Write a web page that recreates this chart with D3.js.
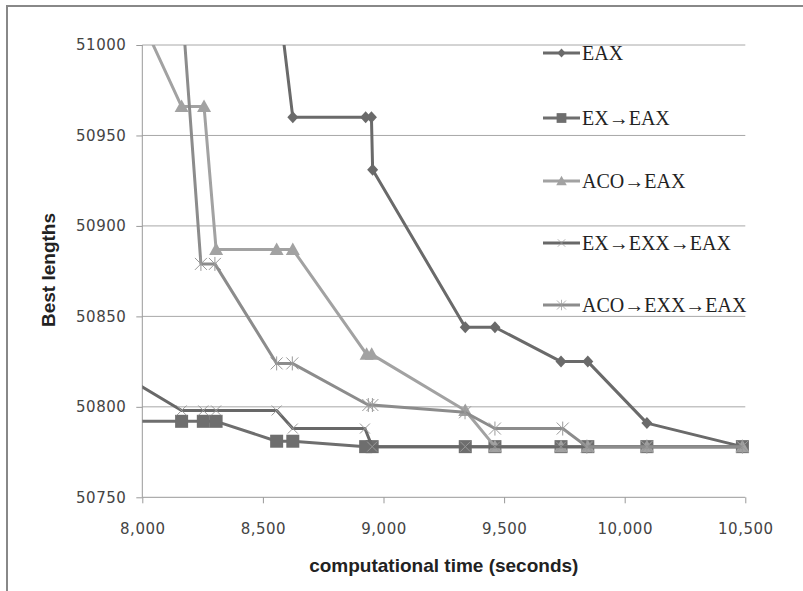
<!DOCTYPE html>
<html>
<head>
<meta charset="utf-8">
<script src="https://cdn.jsdelivr.net/npm/d3@7"></script>
<style>
  body { margin: 0; background: #fff; }
  svg { display: block; }
  .tick text { font-family: "DejaVu Sans", sans-serif; font-size: 15px; fill: #444; letter-spacing: 0.5px; }
  .axis path, .axis line { stroke: #999; }
  .legend text { font-family: "Liberation Serif", serif; font-size: 20px; fill: #222; }
  .title { font-family: "Liberation Sans", Arial, sans-serif; font-weight: bold; font-size: 19px; fill: #222; }
</style>
</head>
<body>
<svg id="chart" width="803" height="591"></svg>
<script>
// axis ticks
var xTicks = [8000, 8500, 9000, 9500, 10000, 10500];
var yTicks = [50750, 50800, 50850, 50900, 50950, 51000];

// series names (legend order)
var names = ["EAX", "EX→EAX", "ACO→EAX", "EX→EXX→EAX", "ACO→EXX→EAX"];

// EAX
var eaxTime = [8557, 8624, 8926, 8950, 8955, 9339, 9462, 9736, 9847, 10092, 10488];
var eaxLen  = [51034, 50960, 50960, 50960, 50931, 50844, 50844, 50825, 50825, 50791, 50778];

// EX -> EAX
var exEaxTime = [7900, 8163, 8253, 8306, 8557, 8624, 8926, 8953, 9339, 9462, 9736, 9847, 10092, 10488];
var exEaxLen  = [50792, 50792, 50792, 50792, 50781, 50781, 50778, 50778, 50778, 50778, 50778, 50778, 50778, 50778];

// ACO -> EAX
var acoEaxTime = [8000, 8163, 8256, 8306, 8557, 8624, 8930, 8951, 9339, 9462, 9736, 9847, 10092, 10488];
var acoEaxLen  = [51013, 50966, 50966, 50887, 50887, 50887, 50829, 50829, 50798, 50778, 50778, 50778, 50778, 50778];

// EX -> EXX -> EAX
var exExxTime = [7900, 8163, 8253, 8306, 8557, 8624, 8923, 8953, 9339, 9462, 9736, 9847, 10092, 10488];
var exExxLen  = [50819, 50798, 50798, 50798, 50798, 50788, 50788, 50778, 50778, 50778, 50778, 50778, 50778, 50778];

// ACO -> EXX -> EAX
var acoExxTime = [8163, 8243, 8301, 8557, 8622, 8937, 8954, 9338, 9462, 9743, 9843, 10092, 10488];
var acoExxLen  = [51025, 50879, 50879, 50824, 50824, 50801, 50801, 50797, 50788, 50788, 50778, 50778, 50778];

var svg = d3.select("#chart");

var x = d3.scaleLinear().domain([8000, 10500]).range([142.3, 745.3]);
var y = d3.scaleLinear().domain([50750, 51000]).range([497.3, 45]);

// outer frame
svg.append("rect")
    .attr("x", 7).attr("y", 6)
    .attr("width", 820).attr("height", 620)
    .attr("fill", "none").attr("stroke", "#888").attr("stroke-width", 2);

// gridlines
svg.append("g").selectAll("line")
    .data(yTicks.slice(1))
    .enter().append("line")
    .attr("x1", x(8000)).attr("x2", x(10500))
    .attr("y1", function(d) { return y(d); })
    .attr("y2", function(d) { return y(d); })
    .attr("stroke", "#a8a8a8").attr("stroke-width", 1);

var yAxis = svg.append("g")
    .attr("class", "axis")
    .attr("transform", "translate(" + x(8000) + ",0)")
    .call(d3.axisLeft(y).tickValues(yTicks).tickSize(6).tickPadding(10).tickFormat(d3.format("d")));
yAxis.select(".domain").attr("d", "M0," + y(51000) + "V" + y(50750));

var xAxis = svg.append("g")
    .attr("class", "axis")
    .attr("transform", "translate(0," + y(50750) + ")")
    .call(d3.axisBottom(x).tickValues(xTicks).tickSize(6).tickPadding(20).tickFormat(d3.format(",")));
xAxis.select(".domain").attr("d", "M" + x(8000) + ",0H" + x(10500));

// axis titles
svg.append("text")
    .attr("class", "title")
    .attr("text-anchor", "middle")
    .attr("transform", "translate(55,270) rotate(-90)")
    .text("Best lengths");

svg.append("text")
    .attr("class", "title")
    .attr("text-anchor", "middle")
    .attr("x", (x(8000) + x(10500)) / 2)
    .attr("y", 572)
    .text("computational time (seconds)");

// marker shapes
function diamond(g, c) {
  g.append("path").attr("d", "M0,-6L5.5,0L0,6L-5.5,0Z").attr("fill", c);
}
function square(g, c) {
  g.append("rect").attr("x", -6.5).attr("y", -6.5).attr("width", 13).attr("height", 13).attr("fill", c);
}
function triangle(g, c) {
  g.append("path").attr("d", "M0,-7L7,5.5L-7,5.5Z").attr("fill", c);
}
function cross(g, c) {
  g.append("path").attr("d", "M-5,-5L5,5M-5,5L5,-5").attr("stroke", "#9a9a9a").attr("stroke-width", 1).attr("fill", "none");
}
function star(g, c) {
  g.append("path").attr("d", "M-6,-6L6,6M-6,6L6,-6M0,-7V7").attr("stroke", "#9a9a9a").attr("stroke-width", 1).attr("fill", "none");
}

var series = [
  { name: names[0], t: eaxTime,    v: eaxLen,    color: "#6a6a6a", marker: diamond },
  { name: names[1], t: exEaxTime,  v: exEaxLen,  color: "#6e6e6e", marker: square },
  { name: names[2], t: acoEaxTime, v: acoEaxLen, color: "#a2a2a2", marker: triangle },
  { name: names[3], t: exExxTime,  v: exExxLen,  color: "#686868", marker: cross },
  { name: names[4], t: acoExxTime, v: acoExxLen, color: "#8c8c8c", marker: star }
];

svg.append("clipPath").attr("id", "plot")
  .append("rect")
    .attr("x", x(8000)).attr("y", y(51000))
    .attr("width", x(10500) - x(8000)).attr("height", y(50750) - y(51000));

var line = d3.line()
    .x(function(d) { return x(d[0]); })
    .y(function(d) { return y(d[1]); });

series.forEach(function(s) {
  var pts = s.t.map(function(t, i) { return [t, s.v[i]]; });

  svg.append("path")
      .datum(pts)
      .attr("clip-path", "url(#plot)")
      .attr("d", line)
      .attr("fill", "none")
      .attr("stroke", s.color)
      .attr("stroke-width", 3)
      .attr("stroke-linejoin", "round");

  svg.append("g").selectAll("g")
      .data(pts.filter(function(d) { return d[0] >= 8000 && d[0] <= 10500 && d[1] <= 51000 && d[1] >= 50750; }))
      .enter().append("g")
      .attr("transform", function(d) { return "translate(" + x(d[0]) + "," + y(d[1]) + ")"; })
      .each(function() { s.marker(d3.select(this), s.color); });
});

// legend
var legend = svg.append("g").attr("class", "legend");
var legendY = [53, 118, 181, 243, 305];
series.forEach(function(s, i) {
  var g = legend.append("g").attr("transform", "translate(543," + legendY[i] + ")");
  g.append("line").attr("x1", 0).attr("x2", 37).attr("y1", 0).attr("y2", 0)
      .attr("stroke", s.color).attr("stroke-width", 3);
  var m = g.append("g").attr("transform", "translate(18.5,0) scale(0.75)");
  s.marker(m, s.color);
  g.append("text").attr("x", 39).attr("y", 7).text(s.name);
});
</script>
</body>
</html>
